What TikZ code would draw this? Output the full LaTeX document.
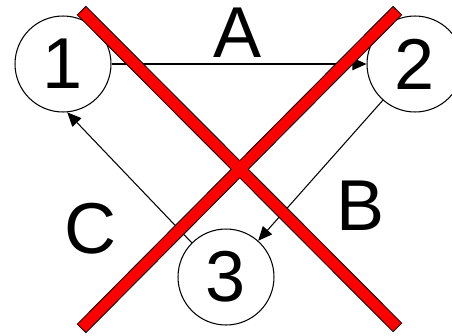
\documentclass[tikz,border=0pt]{standalone}
\usepackage{fontspec}
\setmainfont{Liberation Sans}
\usetikzlibrary{arrows.meta}

\begin{document}
\begin{tikzpicture}[x=0.02cm,y=-0.02cm,
      state/.style={draw,circle,fill=white,line width=0.6pt,minimum size=1.92cm,
                    inner sep=0pt,font=\fontsize{41}{41}\selectfont},
      lbl/.style={inner sep=0pt,font=\fontsize{41}{41}\selectfont},
      arr/.style={-{Triangle[length=8pt,width=7pt]},line width=0.6pt},
      crossedge/.style={black,line width=0.26cm,shorten <=-0.02cm,shorten >=-0.02cm},
      crossfill/.style={red,line width=0.22cm},
  ]
  \useasboundingbox (0,0) rectangle (452,335);

  % States
  \node[state] (n1) at (63,64) {1};
  \node[state] (n2) at (415,64) {2};
  \node[state] (n3) at (226,277) {3};

  % Transitions
  \draw[arr] (n1.east) -- (n2.west);
  \draw[arr] (n2) -- (n3);
  \draw[arr] (n3.135) -- (n1.-85);

  % Labels
  \node[lbl] (la) at (238,33) {A};
  \node[lbl] (lb) at (361,206) {B};
  \node[lbl] (lc) at (91,229) {C};

  % Crossed out
  \coordinate (tl) at (82,11);
  \coordinate (br) at (397,327);
  \coordinate (tr) at (397,11);
  \coordinate (bl) at (82,328);
  \draw[crossedge] (tl) -- (br);
  \draw[crossedge] (tr) -- (bl);
  \draw[crossfill] (tl) -- (br);
  \draw[crossfill] (tr) -- (bl);
\end{tikzpicture}
\end{document}
